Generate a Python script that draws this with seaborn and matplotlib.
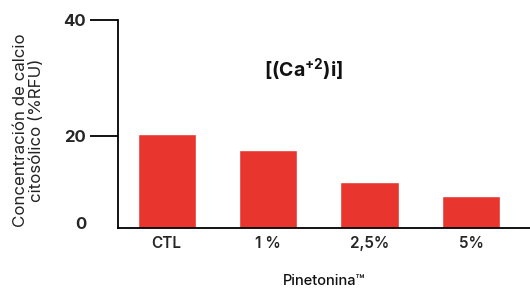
import matplotlib
matplotlib.use("Agg")
import matplotlib.pyplot as plt
import seaborn as sns
import pandas as pd

# values
grupos = ["CTL", "1 %", "2,5%", "5%"]
calcio = [20.3, 17.6, 12.1, 9.7]
ytick_vals = [5.1, 20, 40]
ytick_labels = ["0", "20", "40"]

sns.set_theme(style="white")
plt.rcParams["font.family"] = ["Inter", "DejaVu Sans"]
plt.rcParams["mathtext.fontset"] = "custom"
plt.rcParams["mathtext.rm"] = "Inter"
plt.rcParams["mathtext.bf"] = "Inter:bold"

df = pd.DataFrame({"grupo": grupos, "calcio": calcio})

fig = plt.figure(figsize=(5.30, 2.89), dpi=100)
ax = fig.add_axes([0.2226, 0.211, 0.777, 0.72])

sns.barplot(data=df, x="grupo", y="calcio", color="#E8352D", saturation=1,
            width=0.575, ax=ax)

ax.set_xlim(-0.48, 3.58)
ax.set_ylim(4.19, 40)
ax.set_yticks(ytick_vals)
ax.set_yticklabels(ytick_labels, fontsize=12, fontweight="bold")
ax.tick_params(axis="y", length=20, width=1.3, color="black", pad=3, left=True)
ax.tick_params(axis="x", length=0, pad=6, labelsize=11)
ax.yaxis.get_major_ticks()[0].tick1line.set_visible(False)
for t in ax.get_xticklabels():
    t.set_fontweight("semibold")

sns.despine(ax=ax)
for s in ["left", "bottom"]:
    ax.spines[s].set_color("black")
    ax.spines[s].set_linewidth(1.3)

ax.set_ylabel("Concentración de calcio\ncitosólico (%RFU)", fontsize=12.2,
              color="#222222", linespacing=1.1)
ax.yaxis.set_label_coords(-0.18, 0.47)
ax.set_xlabel("Pinetonina\u2122", fontsize=10.5, fontweight="medium",
              color="#111111", labelpad=16)

ax.text(0.45, 0.76, r"$\mathbf{[(Ca^{+2})i]}$", transform=ax.transAxes,
        ha="center", va="center", fontsize=14, color="#111111")

fig.savefig("out.png", dpi=100)
